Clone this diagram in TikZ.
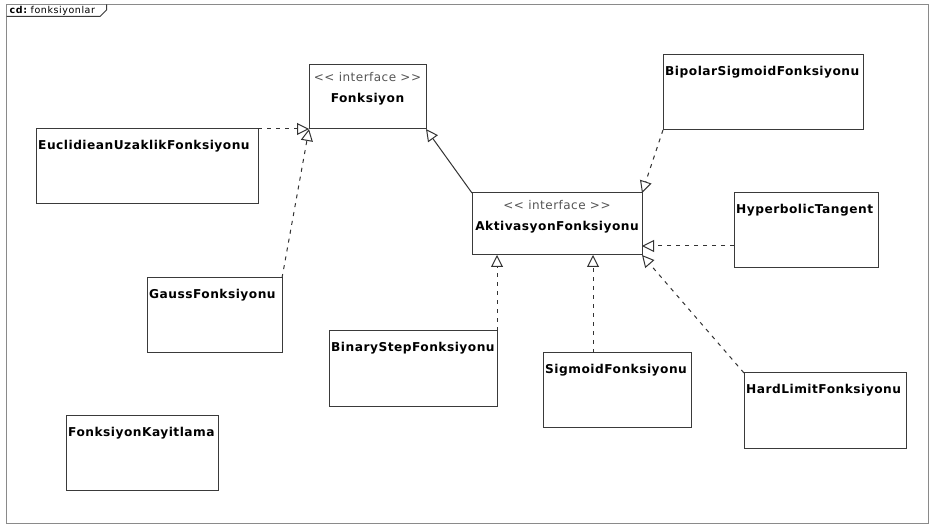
\documentclass[tikz,border=0pt]{standalone}
\usepackage{fontspec}
\setmainfont{DejaVu Sans}
\newfontfamily\umlfont[LetterSpace=4]{DejaVu Sans}
\newfontfamily\tabfont[LetterSpace=6]{DejaVu Sans}
\usetikzlibrary{arrows.meta,calc}

\definecolor{boxline}{HTML}{3A3A3A}
\definecolor{framegray}{HTML}{8A8A8A}
\definecolor{linegray}{HTML}{333333}
\definecolor{stereogray}{HTML}{555555}

\tikzset{
  classbox/.style={draw=boxline, line width=1pt, fill=white, inner sep=0pt,
    outer sep=0pt, anchor=north west},
  classname/.style={font=\umlfont\bfseries\fontsize{12.2}{14}\selectfont,
    inner sep=0pt, text=black},
  stereo/.style={font=\umlfont\fontsize{12}{14}\selectfont,
    inner sep=0pt, text=stereogray, anchor=base},
  openhead/.style={-{Triangle[length=12pt,width=12pt,fill=white]}},
  realize/.style={draw=linegray, line width=1pt, dash pattern=on 4pt off 5pt, openhead},
  generalize/.style={draw=linegray, line width=1pt, openhead},
}

% plain class: box plus left-aligned name
\newcommand{\umlclass}[6]{%
  \node[classbox, minimum width=#4pt, minimum height=#5pt] (#1) at (#2,#3) {};
  \node[classname, anchor=base west] (#1-name) at ($(#1.north west)+(2,20.5)$) {#6};
}
% interface: box plus centred stereotype and name
\newcommand{\umliface}[6]{%
  \node[classbox, minimum width=#4pt, minimum height=#5pt] (#1) at (#2,#3) {};
  \node[stereo] (#1-st) at ($(#1.north)+(0,17)$) {<< interface >>};
  \node[classname, anchor=base] (#1-name) at ($(#1.north)+(0,38)$) {#6};
}

\begin{document}
\begin{tikzpicture}[x=1pt,y=-1pt]
\useasboundingbox (0,0) rectangle (930,526);
\fill[white] (0,0) rectangle (930,526);

% diagram frame with its name tab
\draw[framegray, line width=1pt] (6.5,4.5) rectangle (928.5,523.5);
\draw[boxline, line width=1pt] (6.5,16.5) -- (100,16.5) -- (106.5,10) -- (106.5,4.5);
\node[inner sep=0pt, anchor=base west, font=\tabfont\fontsize{9.5}{11}\selectfont]
  (title) at (9.5,14) {\bfseries cd:\mdseries\ fonksiyonlar};

% interfaces
\umliface{fonk}{309}{65}{117}{64}{Fonksiyon}
\umliface{akt}{472}{193}{170}{62}{AktivasyonFonksiyonu}

% classes
\umlclass{euc}{36}{129}{222}{75}{EuclidieanUzaklikFonksiyonu}
\umlclass{gauss}{147}{278}{135}{75}{GaussFonksiyonu}
\umlclass{kayit}{66}{416}{152}{75}{FonksiyonKayitlama}
\umlclass{bin}{329}{331}{168}{76}{BinaryStepFonksiyonu}
\umlclass{sig}{543}{353}{148}{75}{SigmoidFonksiyonu}
\umlclass{hard}{744}{373}{162}{76}{HardLimitFonksiyonu}
\umlclass{hyp}{734}{193}{144}{75}{HyperbolicTangent}
\umlclass{bip}{663}{55}{200}{75}{BipolarSigmoidFonksiyonu}

% realizations of Fonksiyon
\draw[realize] (euc.north east) -- (fonk.south west);
\draw[realize] (gauss.north east) -- (fonk.south west);
% AktivasyonFonksiyonu extends Fonksiyon
\draw[generalize] (akt.north west) -- (fonk.south east);

% realizations of AktivasyonFonksiyonu
\draw[realize] (bip.south west) -- (akt.north east);
\draw[realize] ([yshift=22pt]hyp.south west) -- ([yshift=9pt]akt.south east);
\draw[realize] (hard.north west) -- (akt.south east);
\coordinate (sigtop) at ([xshift=50pt]sig.north west);
\draw[realize] (sigtop) -- (sigtop |- akt.south);
\draw[realize] (bin.north east) -- (bin.north east |- akt.south);
\end{tikzpicture}
\end{document}
